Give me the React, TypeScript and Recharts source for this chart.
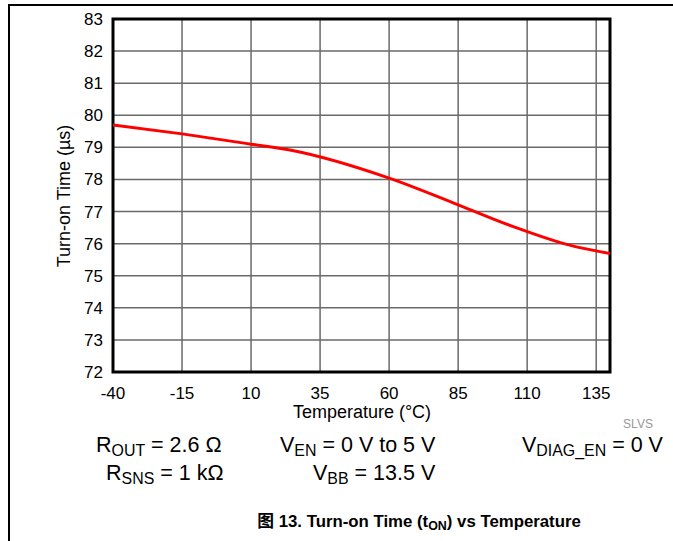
import { LineChart, Line, XAxis, YAxis, CartesianGrid, ReferenceArea } from 'recharts';

const temperatures = [-40, -15, 10, 25, 60, 85, 105, 125, 140];
const turnOnTimes = [79.7, 79.42, 79.1, 78.9, 78.04, 77.21, 76.53, 75.96, 75.69];
const xTicks = [-40, -15, 10, 35, 60, 85, 110, 135];
const yTicks = [72, 73, 74, 75, 76, 77, 78, 79, 80, 81, 82, 83];

const data = temperatures.map((t, i) => ({ temp: t, ton: turnOnTimes[i] }));

const font = 'Arial, "Liberation Sans", Helvetica, sans-serif';

const abs = (left: number, top: number, extra: React.CSSProperties = {}): React.CSSProperties => ({
  position: 'absolute',
  left,
  top,
  whiteSpace: 'nowrap',
  fontFamily: font,
  color: '#000',
  lineHeight: 1,
  ...extra,
});

const sub: React.CSSProperties = { fontSize: '0.74em', verticalAlign: '-0.25em' };

export default function App() {
  return (
    <div style={{ position: 'absolute', left: 0, top: 0, width: 673, height: 541, background: '#fff', overflow: 'hidden' }}>
      {/* page frame */}
      <div style={{ position: 'absolute', left: 8, top: 4, width: 665, height: 1.5, background: '#000' }} />
      <div style={{ position: 'absolute', left: 8, top: 4, width: 1.5, height: 537, background: '#000' }} />

      <LineChart
        width={673}
        height={541}
        data={data}
        margin={{ top: 19, right: 63, bottom: 139, left: 63 }}
        style={{ position: 'absolute', left: 0, top: 0 }}
      >
        <CartesianGrid stroke="#6a6a6a" strokeWidth={1.5} />
        <XAxis
          dataKey="temp"
          type="number"
          domain={[-40, 140]}
          ticks={xTicks}
          allowDataOverflow
          height={30}
          tickLine={false}
          axisLine={false}
          tickSize={0}
          tickMargin={15}
          tick={{ fill: '#000', fontSize: 17, fontFamily: font }}
        />
        <YAxis
          type="number"
          domain={[72, 83]}
          ticks={yTicks}
          allowDataOverflow
          width={50}
          tickLine={false}
          axisLine={false}
          tickSize={0}
          tickMargin={10}
          tick={{ fill: '#000', fontSize: 17, fontFamily: font }}
        />
        <Line
          type="monotone"
          dataKey="ton"
          stroke="#ff0000"
          strokeWidth={3}
          dot={false}
          isAnimationActive={false}
        />
        <ReferenceArea x1={-40} x2={140} y1={72} y2={83} fill="none" stroke="#000" strokeWidth={3} />
      </LineChart>

      {/* axis titles */}
      <div
        style={abs(63.5, 195.5, {
          fontSize: 18,
          transform: 'translate(-50%, -50%) rotate(-90deg)',
        })}
      >
        Turn-on Time (µs)
      </div>
      <div style={abs(362, 403, { fontSize: 18, transform: 'translateX(-50%)' })}>Temperature (°C)</div>
      <div style={abs(638, 418, { fontSize: 12, color: '#999', transform: 'translateX(-50%)' })}>SLVS</div>

      {/* conditions */}
      <div style={abs(96, 435, { fontSize: 21.5 })}>
        R<span style={sub}>OUT</span> = 2.6 Ω
      </div>
      <div style={abs(280, 435, { fontSize: 21.5 })}>
        V<span style={sub}>EN</span> = 0 V to 5 V
      </div>
      <div style={abs(522, 435, { fontSize: 21.5 })}>
        V<span style={sub}>DIAG_EN</span> = 0 V
      </div>
      <div style={abs(106, 463, { fontSize: 21.5 })}>
        R<span style={sub}>SNS</span> = 1 kΩ
      </div>
      <div style={abs(313, 463, { fontSize: 21.5 })}>
        V<span style={sub}>BB</span> = 13.5 V
      </div>

      {/* caption */}
      <div style={abs(419, 512, { fontSize: 16.8, fontWeight: 'bold', transform: 'translateX(-50%)' })}>
        <span style={{ fontFamily: '"Noto Sans CJK SC", sans-serif' }}>图</span> 13. Turn-on Time (t<span style={sub}>ON</span>) vs Temperature
      </div>
    </div>
  );
}
